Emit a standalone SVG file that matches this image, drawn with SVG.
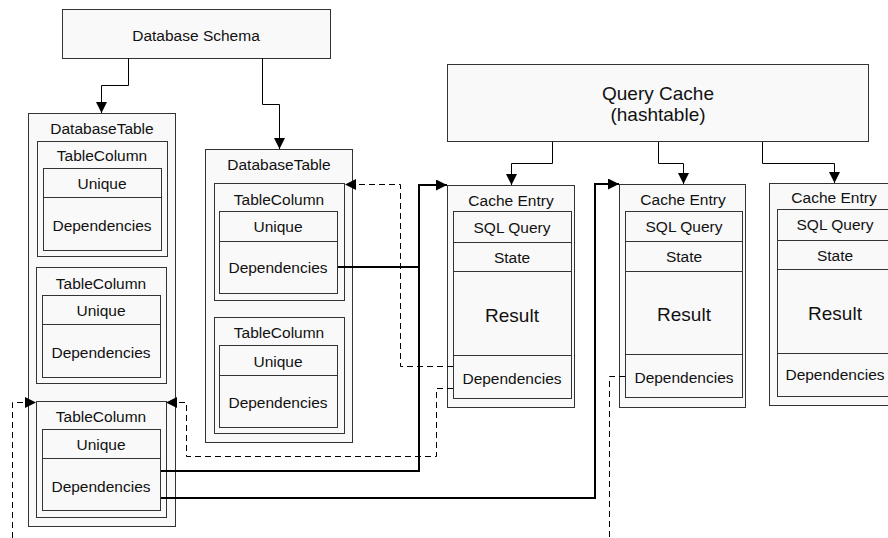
<svg xmlns="http://www.w3.org/2000/svg" width="888" height="538" viewBox="0 0 888 538">
<defs>
<marker id="ah" viewBox="0 0 10 10" refX="10" refY="5" markerWidth="11" markerHeight="11" markerUnits="userSpaceOnUse" orient="auto">
<path d="M0,0 L10,5 L0,10 Z" fill="#000"/>
</marker>
<style>
rect{fill:#f9f9f9;stroke:#333;stroke-width:1}
line.d{stroke:#333;stroke-width:1}
text{font-family:"Liberation Sans",Arial,sans-serif;font-size:15.5px;fill:#111;text-anchor:middle;dominant-baseline:central}
text.big{font-size:19px}
.c{fill:none;stroke:#000;stroke-width:1}
.t{fill:none;stroke:#000;stroke-width:2}
.dash{fill:none;stroke:#000;stroke-width:1;stroke-dasharray:6,4}
</style>
</defs>
<rect width="888" height="538" style="fill:#fff;stroke:none"/>

<g id="database-schema">
<rect x="62.5" y="9.5" width="268" height="49"/>
<text x="196" y="35">Database Schema</text>
</g>

<g id="table-left">
<rect x="28.5" y="113.5" width="147" height="413"/>
<text x="102" y="128">DatabaseTable</text>
<g id="table-left-col1">
<rect x="37.5" y="141.5" width="130" height="115"/>
<text x="102" y="155">TableColumn</text>
<rect x="43.5" y="168.5" width="118" height="82"/>
<line class="d" x1="43.5" y1="197.5" x2="161.5" y2="197.5"/>
<text x="102" y="183.5">Unique</text>
<text x="102" y="225">Dependencies</text>
</g>
<g id="table-left-col2">
<rect x="36.5" y="267.5" width="130" height="116"/>
<text x="101" y="283">TableColumn</text>
<rect x="42.5" y="295.5" width="118" height="82"/>
<line class="d" x1="42.5" y1="324.5" x2="160.5" y2="324.5"/>
<text x="101" y="310.5">Unique</text>
<text x="101" y="352">Dependencies</text>
</g>
<g id="table-left-col3">
<rect x="36.5" y="401.5" width="130" height="116"/>
<text x="101" y="416">TableColumn</text>
<rect x="42.5" y="429.5" width="118" height="81"/>
<line class="d" x1="42.5" y1="458.5" x2="160.5" y2="458.5"/>
<text x="101" y="444">Unique</text>
<text x="101" y="486">Dependencies</text>
</g>
</g>

<g id="table-middle">
<rect x="205.5" y="149.5" width="147" height="293"/>
<text x="279" y="164">DatabaseTable</text>
<g id="table-middle-col1">
<rect x="214.5" y="183.5" width="130" height="117"/>
<text x="279" y="199">TableColumn</text>
<rect x="219.5" y="211.5" width="118" height="82"/>
<line class="d" x1="219.5" y1="241.5" x2="337.5" y2="241.5"/>
<text x="278" y="226.5">Unique</text>
<text x="278" y="267">Dependencies</text>
</g>
<g id="table-middle-col2">
<rect x="214.5" y="317.5" width="130" height="116"/>
<text x="279" y="332">TableColumn</text>
<rect x="219.5" y="345.5" width="118" height="82"/>
<line class="d" x1="219.5" y1="375.5" x2="337.5" y2="375.5"/>
<text x="278" y="361">Unique</text>
<text x="278" y="402">Dependencies</text>
</g>
</g>

<g id="query-cache">
<rect x="447.5" y="64.5" width="421" height="77"/>
<text class="big" x="658" y="93">Query Cache</text>
<text class="big" x="658" y="114">(hashtable)</text>
</g>

<g id="cache-entry-1">
<rect x="447.5" y="185.5" width="127" height="222"/>
<text x="511" y="200">Cache Entry</text>
<rect x="453.5" y="211.5" width="118" height="187"/>
<line class="d" x1="453.5" y1="242.5" x2="571.5" y2="242.5"/>
<line class="d" x1="453.5" y1="271.5" x2="571.5" y2="271.5"/>
<line class="d" x1="453.5" y1="355.5" x2="571.5" y2="355.5"/>
<text x="512" y="227">SQL Query</text>
<text x="512" y="257">State</text>
<text class="big" x="512" y="315">Result</text>
<text x="512" y="378">Dependencies</text>
</g>

<g id="cache-entry-2">
<rect x="619.5" y="184.5" width="126" height="223"/>
<text x="683" y="199">Cache Entry</text>
<rect x="625.5" y="211.5" width="117" height="186"/>
<line class="d" x1="625.5" y1="241.5" x2="742.5" y2="241.5"/>
<line class="d" x1="625.5" y1="271.5" x2="742.5" y2="271.5"/>
<line class="d" x1="625.5" y1="354.5" x2="742.5" y2="354.5"/>
<text x="684" y="226">SQL Query</text>
<text x="684" y="256">State</text>
<text class="big" x="684" y="314">Result</text>
<text x="684" y="377">Dependencies</text>
</g>

<g id="cache-entry-3">
<rect x="769.5" y="183.5" width="128" height="222"/>
<text x="834" y="197">Cache Entry</text>
<rect x="777.5" y="209.5" width="117" height="187"/>
<line class="d" x1="777.5" y1="240.5" x2="894.5" y2="240.5"/>
<line class="d" x1="777.5" y1="269.5" x2="894.5" y2="269.5"/>
<line class="d" x1="777.5" y1="353.5" x2="894.5" y2="353.5"/>
<text x="835" y="224">SQL Query</text>
<text x="835" y="255">State</text>
<text class="big" x="835" y="313">Result</text>
<text x="835" y="374">Dependencies</text>
</g>

<g id="connectors">
<path class="c" d="M128.5,58 V85.5 H101.5 V113" marker-end="url(#ah)"/>
<path class="c" d="M262.5,58 V104.5 H279.5 V149" marker-end="url(#ah)"/>
<path class="c" d="M552.5,142 V163.5 H511.5 V185" marker-end="url(#ah)"/>
<path class="c" d="M658.5,142 V163.5 H683.5 V184" marker-end="url(#ah)"/>
<path class="c" d="M762.5,142 V163.5 H834.5 V183" marker-end="url(#ah)"/>
<path class="t" d="M338,267 H419"/>
<path class="t" d="M161,471 H419 V185 H447" marker-end="url(#ah)"/>
<path class="t" d="M161,498 H595 V184 H619" marker-end="url(#ah)"/>
<path class="dash" d="M453,366.5 H400.5 V184.5 H345" marker-end="url(#ah)"/>
<path class="dash" d="M453,388.5 H436.5 V456.5 H186.5 V402.5 H166" marker-end="url(#ah)"/>
<path class="dash" d="M625,376.5 H609.5 V538"/>
<path class="dash" d="M12.5,538 V402.5 H36" marker-end="url(#ah)"/>
</g>
</svg>
